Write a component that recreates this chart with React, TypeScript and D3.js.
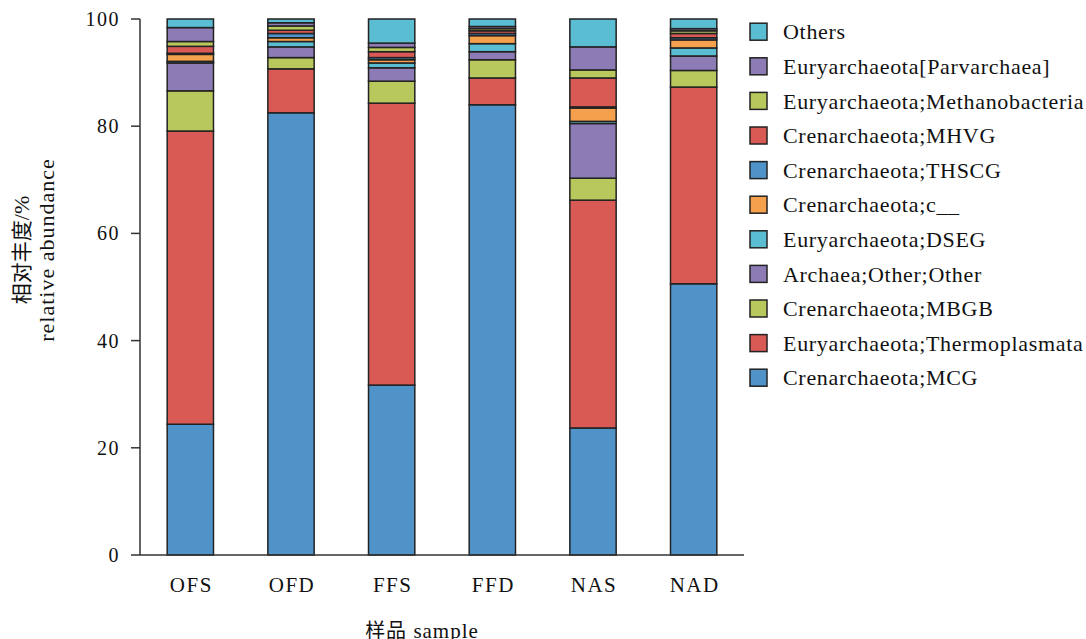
import React from "react";
import * as d3 from "d3";

const samples = ["OFS", "OFD", "FFS", "FFD", "NAS", "NAD"];

// stacking order bottom -> top
const seriesNames = [
  "Crenarchaeota;MCG",
  "Euryarchaeota;Thermoplasmata",
  "Crenarchaeota;MBGB",
  "Archaea;Other;Other",
  "Euryarchaeota;DSEG",
  "Crenarchaeota;c__",
  "Crenarchaeota;THSCG",
  "Crenarchaeota;MHVG",
  "Euryarchaeota;Methanobacteria",
  "Euryarchaeota[Parvarchaea]",
  "Others",
];

const seriesColors = [
  "#4f93c9",
  "#d95a55",
  "#b8c85c",
  "#8d7bb5",
  "#5bbdd1",
  "#f4a04c",
  "#4f93c9",
  "#d95a55",
  "#b8c85c",
  "#8d7bb5",
  "#5bbdd1",
];

// values per series, in sample order
const MCG = [24.4, 82.5, 31.7, 84.0, 23.7, 50.6];
const Thermoplasmata = [54.7, 8.2, 52.6, 5.0, 42.5, 36.7];
const MBGB = [7.5, 2.1, 4.1, 3.4, 4.1, 3.1];
const ArchaeaOther = [5.2, 2.0, 2.5, 1.5, 10.2, 2.7];
const DSEG = [0.3, 1.0, 0.9, 1.5, 0.4, 1.5];
const cUnd = [1.3, 0.7, 0.6, 1.5, 2.5, 1.5];
const THSCG = [0.2, 0.8, 0.4, 0.4, 0.2, 0.4];
const MHVG = [1.3, 0.6, 1.1, 0.5, 5.4, 0.8];
const Methanobacteria = [0.9, 0.8, 0.8, 0.4, 1.5, 0.5];
const Parvarchaea = [2.6, 0.6, 0.8, 0.4, 4.3, 0.4];
const Others = [1.6, 0.7, 4.5, 1.4, 5.2, 1.8];

const seriesValues = [
  MCG,
  Thermoplasmata,
  MBGB,
  ArchaeaOther,
  DSEG,
  cUnd,
  THSCG,
  MHVG,
  Methanobacteria,
  Parvarchaea,
  Others,
];

const yTicks = [0, 20, 40, 60, 80, 100];

const FONT = "'Liberation Serif', 'DejaVu Serif', serif";
const CJK = "'Noto Sans CJK SC', sans-serif";

export default function App() {
  const W = 1086;
  const H = 639;
  const left = 140;
  const right = 744;
  const top = 19;
  const bottom = 555;

  const x = d3
    .scaleBand<string>()
    .domain(samples)
    .range([left, right])
    .paddingInner(0.54)
    .paddingOuter(0.27);
  const y = d3.scaleLinear().domain([0, 100]).range([bottom, top]);

  const table = samples.map((s, i) => {
    const row: Record<string, any> = { sample: s };
    seriesNames.forEach((n, k) => (row[n] = seriesValues[k][i]));
    return row;
  });
  const stacked = d3.stack<any>().keys(seriesNames)(table);

  const legendOrder = seriesNames.map((_, i) => i).reverse();

  return (
    <svg
      width={W}
      height={H}
      style={{ position: "absolute", left: 0, top: 0, background: "#fff" }}
      fontFamily={FONT}
    >
      {/* bars */}
      {stacked.map((layer, k) => (
        <g key={k} fill={seriesColors[k]} stroke="#222" strokeWidth={1.5}>
          {layer.map((d, i) => (
            <rect
              key={i}
              x={x(samples[i])!}
              width={x.bandwidth()}
              y={y(d[1])}
              height={Math.max(0, y(d[0]) - y(d[1]))}
            />
          ))}
        </g>
      ))}

      {/* axes */}
      <line x1={left} x2={left} y1={top} y2={bottom} stroke="#333" strokeWidth={1.5} />
      <line x1={left} x2={right} y1={bottom} y2={bottom} stroke="#333" strokeWidth={1.5} />
      {yTicks.map((t) => (
        <g key={t}>
          <line x1={left - 9} x2={left} y1={y(t)} y2={y(t)} stroke="#333" strokeWidth={1.5} />
          <text
            x={left - 20}
            y={y(t)}
            dy="0.35em"
            textAnchor="end"
            fontSize={20}
            letterSpacing={1.5}
            fill="#111"
          >
            {t}
          </text>
        </g>
      ))}
      {samples.map((s) => (
        <text
          key={s}
          x={x(s)! + x.bandwidth() / 2 + 1}
          y={592}
          textAnchor="middle"
          fontSize={21}
          letterSpacing={1.5}
          fill="#111"
        >
          {s}
        </text>
      ))}

      {/* axis titles */}
      <g transform="translate(0,250) rotate(-90)">
        <text x={0} y={29} textAnchor="middle" fontSize={22} fill="#111">
          <tspan fontFamily={CJK} fontSize={21}>相对丰度</tspan>
          <tspan>/%</tspan>
        </text>
        <text x={0} y={54} textAnchor="middle" fontSize={22} letterSpacing={1} fill="#111">
          relative abundance
        </text>
      </g>
      <text x={422} y={638} textAnchor="middle" fontSize={21} letterSpacing={1} fill="#111">
        <tspan fontFamily={CJK} fontSize={20}>样品</tspan>
        <tspan> sample</tspan>
      </text>

      {/* legend */}
      {legendOrder.map((k, j) => {
        const cy = 31.7 + j * 34.6;
        return (
          <g key={k}>
            <rect
              x={750}
              y={cy - 8.5}
              width={17}
              height={17}
              fill={seriesColors[k]}
              stroke="#222"
              strokeWidth={1.5}
            />
            <text x={783} y={cy} dy="0.35em" fontSize={22} letterSpacing={0.7} fill="#111">
              {seriesNames[k]}
            </text>
          </g>
        );
      })}
    </svg>
  );
}
